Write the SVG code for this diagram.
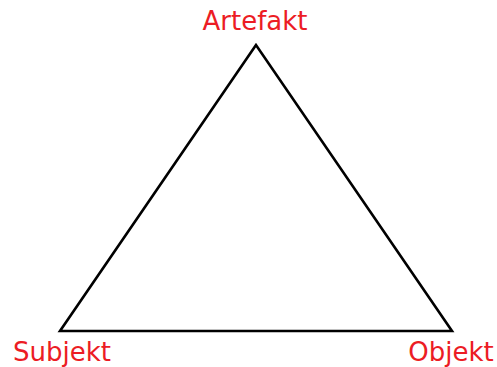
<svg xmlns="http://www.w3.org/2000/svg" width="497" height="367" viewBox="0 0 497 367">
<style>
.lbl{font-family:"DejaVu Sans",Verdana,sans-serif;font-size:26px;fill:#ec1c24;text-anchor:middle}
.edge{stroke:#000;stroke-width:2.6;fill:none;stroke-linejoin:miter}
</style>
<rect width="497" height="367" fill="#fff"/>
<g id="connectors">
<path class="edge" d="M256,45 L60,331 L452,331 Z"/>
</g>
<g id="artefakt"><text class="lbl" x="255" y="30">Artefakt</text></g>
<g id="subjekt"><text class="lbl" x="62" y="361">Subjekt</text></g>
<g id="objekt"><text class="lbl" x="451" y="361">Objekt</text></g>
</svg>
